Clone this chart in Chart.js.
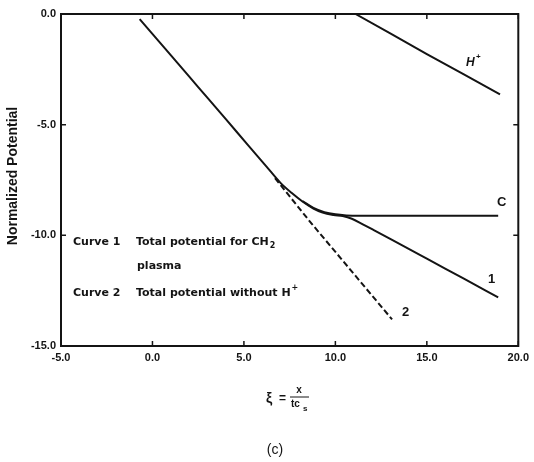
<!DOCTYPE html>
<html>
<head>
<meta charset="utf-8">
<script src="https://cdn.jsdelivr.net/npm/chart.js@4"></script>
<style>
  html, body { margin: 0; padding: 0; background: #fff; }
</style>
</head>
<body>
<canvas id="potentialChart" width="534" height="462"></canvas>
<script>
// axis ticks
var xTicks = [-5, 0, 5, 10, 15, 20];
var yTicks = [0, -5, -10, -15];

// curve 1: total potential for CH2 plasma
var curve1X = [-0.7, 1.0, 2.5, 4.0, 5.2, 6.2, 7.0, 7.6, 8.2, 8.8, 9.3, 9.9, 10.4, 10.9, 11.5, 12.1, 13.1, 15.0, 17.0, 18.9];
var curve1Y = [-0.23, -1.86, -3.3, -4.74, -5.9, -6.86, -7.63, -8.08, -8.47, -8.79, -8.97, -9.08, -9.13, -9.25, -9.5, -9.76, -10.2, -11.05, -11.95, -12.8];

// C ion branch
var curveCX = [8.2, 8.8, 9.4, 10.0, 10.6, 11.2, 18.9];
var curveCY = [-8.45, -8.76, -8.95, -9.05, -9.1, -9.12, -9.12];

// H+ branch
var curveHX = [9.5, 11.1, 13.0, 15.0, 17.0, 19.0];
var curveHY = [0, 0, -0.87, -1.81, -2.72, -3.63];

// curve 2: total potential without H+
var curve2X = [6.7, 8.7, 9.85, 13.1];
var curve2Y = [-7.42, -9.47, -10.6, -13.8];

var ink = "#141414";
var fontFam = "'Liberation Sans', Arial, sans-serif";
var wideFam = "'DejaVu Sans', sans-serif";

function pts(xs, ys) {
  return xs.map(function(x, i) { return { x: x, y: ys[i] }; });
}

function line(ds, smooth, dash) {
  return {
    data: ds,
    showLine: true,
    borderColor: ink,
    borderWidth: 2,
    borderDash: dash || [],
    pointRadius: 0,
    cubicInterpolationMode: smooth ? "monotone" : "default",
    tension: 0,
    fill: false
  };
}

var decor = {
  id: "decor",
  afterDraw: function(chart) {
    var c = chart.ctx, a = chart.chartArea;
    var sx = chart.scales.x, sy = chart.scales.y;
    c.save();
    c.strokeStyle = ink;
    c.lineWidth = 2;
    c.strokeRect(a.left, a.top, a.right - a.left, a.bottom - a.top);

    c.lineWidth = 1.5;
    c.beginPath();
    xTicks.forEach(function(v) {
      var px = sx.getPixelForValue(v);
      c.moveTo(px, a.bottom); c.lineTo(px, a.bottom - 5);
      c.moveTo(px, a.top); c.lineTo(px, a.top + 5);
    });
    yTicks.forEach(function(v) {
      var py = sy.getPixelForValue(v);
      c.moveTo(a.left, py); c.lineTo(a.left + 5, py);
      c.moveTo(a.right, py); c.lineTo(a.right - 5, py);
    });
    c.stroke();

    c.fillStyle = ink;
    c.textBaseline = "middle";

    // legend text inside the plot
    c.font = "bold 11px " + wideFam;
    c.textAlign = "left";
    c.fillText("Curve 1", 73, 242);
    c.fillText("Total potential for CH", 136, 242);
    var w = c.measureText("Total potential for CH").width;
    c.font = "bold 8px " + wideFam;
    c.fillText("2", 136 + w + 1, 246);
    c.font = "bold 11px " + wideFam;
    c.fillText("plasma", 137, 266);
    c.fillText("Curve 2", 73, 293);
    c.fillText("Total potential without H", 136, 293);
    w = c.measureText("Total potential without H").width;
    c.font = "bold 8px " + wideFam;
    c.fillText("+", 136 + w + 1, 288);

    // curve labels
    c.font = "italic bold 12px " + fontFam;
    c.fillText("H", 466, 63);
    c.font = "bold 8px " + fontFam;
    c.fillText("+", 476, 57);
    c.font = "bold 13px " + fontFam;
    c.fillText("C", 497, 202);
    c.fillText("1", 488, 279);
    c.fillText("2", 402, 312);

    // y title
    c.save();
    c.translate(13, 176);
    c.rotate(-Math.PI / 2);
    c.textAlign = "center";
    c.font = "bold 14px " + fontFam;
    c.fillText("Normalized Potential", 0, 0);
    c.restore();

    // x title: xi = x / t c_s
    c.textAlign = "left";
    c.font = "bold 14px " + fontFam;
    c.fillText("\u03BE", 266, 399);
    c.font = "bold 12px " + fontFam;
    c.fillText("=", 279, 399);
    c.font = "bold 10px " + fontFam;
    c.textAlign = "center";
    c.fillText("x", 299, 390);
    c.lineWidth = 1;
    c.beginPath();
    c.moveTo(290, 397); c.lineTo(309, 397);
    c.stroke();
    c.textAlign = "left";
    c.fillText("tc", 291, 404);
    c.font = "bold 8px " + fontFam;
    c.fillText("s", 303, 409);

    c.textAlign = "center";
    c.font = "14px " + fontFam;
    c.fillText("(c)", 275, 450);
    c.restore();
  }
};

var ctx = document.getElementById("potentialChart").getContext("2d");
var potentialChart = new Chart(ctx, {
  type: "scatter",
  data: {
    datasets: [
      line(pts(curve1X, curve1Y), true),
      line(pts(curveCX, curveCY), true),
      line(pts(curveHX, curveHY), false),
      line(pts(curve2X, curve2Y), false, [6, 3])
    ]
  },
  options: {
    responsive: false,
    animation: false,
    layout: { padding: { top: 14, right: 9, left: 0, bottom: 0 } },
    plugins: { legend: { display: false }, tooltip: { enabled: false } },
    scales: {
      x: {
        type: "linear",
        min: -5,
        max: 20,
        afterBuildTicks: function(s) { s.ticks = xTicks.map(function(v) { return { value: v }; }); },
        afterFit: function(s) { s.height = 116; },
        grid: { display: false, drawTicks: false },
        border: { display: false },
        ticks: {
          color: ink,
          padding: 5,
          maxRotation: 0,
          font: { family: fontFam, size: 11, weight: "bold" },
          callback: function(v) { return Number(v).toFixed(1); }
        }
      },
      y: {
        min: -15,
        max: 0,
        afterBuildTicks: function(s) { s.ticks = yTicks.map(function(v) { return { value: v }; }); },
        afterFit: function(s) { s.width = 61; },
        grid: { display: false, drawTicks: false },
        border: { display: false },
        ticks: {
          color: ink,
          padding: 5,
          font: { family: fontFam, size: 11, weight: "bold" },
          callback: function(v) { return Number(v).toFixed(1); }
        }
      }
    }
  },
  plugins: [decor]
});
</script>
</body>
</html>
